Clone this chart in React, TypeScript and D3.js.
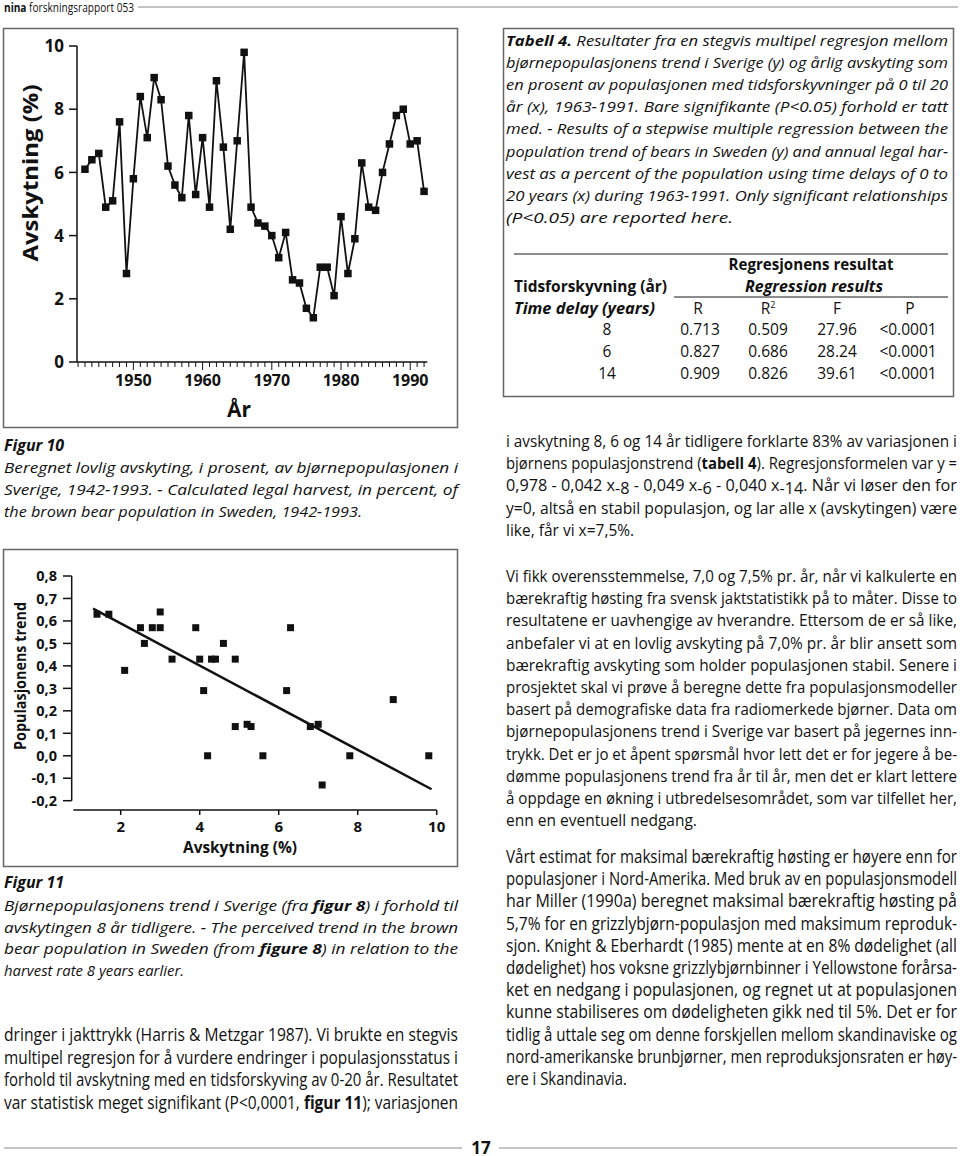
import React from 'react';
import * as d3 from 'd3';

// ---------- DATA ----------
const harvestYears = [
  1943, 1944, 1945, 1946, 1947, 1948, 1949, 1950, 1951, 1952,
  1953, 1954, 1955, 1956, 1957, 1958, 1959, 1960, 1961, 1962,
  1963, 1964, 1965, 1966, 1967, 1968, 1969, 1970, 1971, 1972,
  1973, 1974, 1975, 1976, 1977, 1978, 1979, 1980, 1981, 1982,
  1983, 1984, 1985, 1986, 1987, 1988, 1989, 1990, 1991, 1992,
];
const harvestPct = [
  6.1, 6.4, 6.6, 4.9, 5.1, 7.6, 2.8, 5.8, 8.4, 7.1,
  9.0, 8.3, 6.2, 5.6, 5.2, 7.8, 5.3, 7.1, 4.9, 8.9,
  6.8, 4.2, 7.0, 9.8, 4.9, 4.4, 4.3, 4.0, 3.3, 4.1,
  2.6, 2.5, 1.7, 1.4, 3.0, 3.0, 2.1, 4.6, 2.8, 3.9,
  6.3, 4.9, 4.8, 6.0, 6.9, 7.8, 8.0, 6.9, 7.0, 5.4,
];
const fig10YTicks = [0, 2, 4, 6, 8, 10];
const fig10XTicks = [1950, 1960, 1970, 1980, 1990];

const trendHarvest = [
  1.4, 1.7, 2.1, 2.5, 2.6, 2.8, 3.0, 3.0, 3.3, 3.9,
  4.0, 4.1, 4.2, 4.3, 4.4, 4.6, 4.9, 4.9, 5.2, 5.3,
  5.6, 6.2, 6.3, 6.8, 7.0, 7.1, 7.8, 8.9, 9.8,
];
const trendValue = [
  0.63, 0.63, 0.38, 0.57, 0.50, 0.57, 0.64, 0.57, 0.43, 0.57,
  0.43, 0.29, 0.0, 0.43, 0.43, 0.50, 0.43, 0.13, 0.14, 0.13,
  0.0, 0.29, 0.57, 0.13, 0.14, -0.13, 0.0, 0.25, 0.0,
];
const regressionX = [1.3, 9.87];
const regressionY = [0.655, -0.149];
const fig11YTicks = [-0.2, -0.1, 0, 0.1, 0.2, 0.3, 0.4, 0.5, 0.6, 0.7, 0.8];
const fig11YLabels = ['-0,2', '-0,1', '0,0', '0,1', '0,2', '0,3', '0,4', '0,5', '0,6', '0,7', '0,8'];
const fig11XTicks = [2, 4, 6, 8, 10];

const tableDelay = ['8', '6', '14'];
const tableR = ['0.713', '0.827', '0.909'];
const tableR2 = ['0.509', '0.686', '0.826'];
const tableF = ['27.96', '28.24', '39.61'];
const tableP = ['<0.0001', '<0.0001', '<0.0001'];

// ---------- TEXT ----------
const tabellLines = [
  '**Tabell 4.** Resultater fra en stegvis multipel regresjon mellom',
  'bjørnepopulasjonens trend i Sverige (y) og årlig avskyting som',
  'en prosent av populasjonen med tidsforskyvninger på 0 til 20',
  'år (x), 1963-1991. Bare signifikante (P<0.05) forhold er tatt',
  'med. - Results of a stepwise multiple regression between the',
  'population trend of bears in Sweden (y) and annual legal har-',
  'vest as a percent of the population using time delays of 0 to',
  '20 years (x) during 1963-1991. Only significant relationships',
  '(P<0.05) are reported here.',
];
const fig10Caption = [
  'Beregnet lovlig avskyting, i prosent, av bjørnepopulasjonen i',
  'Sverige, 1942-1993.  - Calculated legal harvest, in percent, of',
  'the brown bear population in Sweden, 1942-1993.',
];
const fig11Caption = [
  'Bjørnepopulasjonens trend i Sverige (fra **figur 8**) i forhold til',
  'avskytingen 8 år tidligere. - The perceived trend in the brown',
  'bear population in Sweden (from **figure 8**) in relation to the',
  'harvest rate 8 years earlier.',
];
const rightPara1 = [
  'i avskytning 8, 6 og 14 år tidligere forklarte 83% av variasjonen i',
  'bjørnens populasjonstrend (**tabell 4**). Regresjonsformelen var y =',
  '0,978 - 0,042 x_{-8} - 0,049 x_{-6} - 0,040 x_{-14}. Når vi løser den for',
  'y=0, altså en stabil populasjon, og lar alle x (avskytingen) være',
  'like, får vi x=7,5%.',
];
const rightPara2 = [
  'Vi fikk overensstemmelse, 7,0 og 7,5% pr. år, når vi kalkulerte en',
  'bærekraftig høsting fra svensk jaktstatistikk på to måter. Disse to',
  'resultatene er uavhengige av hverandre. Ettersom de er så like,',
  'anbefaler vi at en lovlig avskyting på 7,0% pr. år blir ansett som',
  'bærekraftig avskyting som holder populasjonen stabil. Senere i',
  'prosjektet skal vi prøve å beregne dette fra populasjonsmodeller',
  'basert på demografiske data fra radiomerkede bjørner. Data om',
  'bjørnepopulasjonens trend i Sverige var basert på jegernes inn-',
  'trykk. Det er jo et åpent spørsmål hvor lett det er for jegere å be-',
  'dømme populasjonens trend fra år til år, men det er klart lettere',
  'å oppdage en økning i utbredelsesområdet, som var tilfellet her,',
  'enn en eventuell nedgang.',
];
const rightPara3 = [
  'Vårt estimat for maksimal bærekraftig høsting er høyere enn for',
  'populasjoner i Nord-Amerika. Med bruk av en populasjonsmodell',
  'har Miller (1990a) beregnet maksimal bærekraftig høsting på',
  '5,7% for en grizzlybjørn-populasjon med maksimum reproduk-',
  'sjon. Knight & Eberhardt (1985) mente at en 8% dødelighet (all',
  'dødelighet) hos voksne grizzlybjørnbinner i Yellowstone forårsa-',
  'ket en nedgang i populasjonen, og regnet ut at populasjonen',
  'kunne stabiliseres om dødeligheten gikk ned til 5%. Det er for',
  'tidlig å uttale seg om denne forskjellen mellom skandinaviske og',
  'nord-amerikanske brunbjørner, men reproduksjonsraten er høy-',
  'ere i Skandinavia.',
];
const leftPara = [
  'dringer i jakttrykk (Harris & Metzgar 1987). Vi brukte en stegvis',
  'multipel regresjon for å vurdere endringer i populasjonsstatus i',
  'forhold til avskytning med en tidsforskyving av 0-20 år. Resultatet',
  'var statistisk meget signifikant (P<0,0001, **figur 11**); variasjonen',
];

const FONT = "'Open Sans', 'Noto Sans', 'DejaVu Sans', sans-serif";
const INK = '#111';
const RULE = '#666';

function rich(s: string) {
  const pieces = s.split(/(\*\*[^*]+\*\*|_\{[^}]+\})/).filter((p) => p !== '');
  let shift = 0;
  return pieces.map((p, i) => {
    if (p.startsWith('**')) {
      const dy = 0 - shift;
      shift = 0;
      return (
        <tspan key={i} fontWeight="bold" dy={dy || undefined}>
          {p.slice(2, -2)}
        </tspan>
      );
    }
    if (p.startsWith('_{')) {
      const dy = 3 - shift;
      shift = 3;
      return (
        <tspan key={i} dy={dy || undefined}>
          {p.slice(2, -1)}
        </tspan>
      );
    }
    const dy = 0 - shift;
    shift = 0;
    return (
      <tspan key={i} dy={dy || undefined}>
        {p}
      </tspan>
    );
  });
}

type ParaProps = {
  lines: string[];
  x: number;
  y: number;
  lh: number;
  width: number;
  size: number;
  italic?: boolean;
  lastWidth?: number;
};

function Para({ lines, x, y, lh, width, size, italic, lastWidth }: ParaProps) {
  return (
    <g>
      {lines.map((ln, i) => {
        const isLast = i === lines.length - 1;
        const tl = isLast ? lastWidth : width;
        return (
          <text
            key={i}
            x={x}
            y={y + i * lh}
            fontSize={size}
            fontStyle={italic ? 'italic' : 'normal'}
            fill={INK}
            textLength={tl}
            lengthAdjust={tl ? 'spacingAndGlyphs' : undefined}
          >
            {rich(ln)}
          </text>
        );
      })}
    </g>
  );
}

function Figure10() {
  const x = d3.scaleLinear().domain([1941.85, 1992.47]).range([77, 427.3]);
  const y = d3.scaleLinear().domain([0, 10]).range([362, 46]);
  const line = d3
    .line<number>()
    .x((_, i) => x(harvestYears[i]))
    .y((d) => y(d));
  const minorYears = d3.range(1942, 1993);
  const sq = 7.5;
  return (
    <g fontFamily={FONT} fill={INK}>
      <rect x={3.5} y={28.5} width={454} height={399} fill="none" stroke={RULE} strokeWidth={1.5} />
      <line x1={77} x2={77} y1={y(10)} y2={y(0)} stroke={INK} strokeWidth={1.5} />
      {fig10YTicks.map((t) => (
        <g key={t}>
          <line x1={69} x2={77} y1={y(t)} y2={y(t)} stroke={INK} strokeWidth={1.5} />
          <text x={64} y={y(t)} dy="0.36em" textAnchor="end" fontSize={17} fontWeight="bold">
            {t}
          </text>
        </g>
      ))}
      <line x1={77} x2={427.3} y1={362} y2={362} stroke={INK} strokeWidth={1.5} />
      {minorYears.map((yr) => (
        <line
          key={yr}
          x1={x(yr)}
          x2={x(yr)}
          y1={362}
          y2={yr % 10 === 0 ? 370 : 367}
          stroke={INK}
          strokeWidth={1}
        />
      ))}
      {fig10XTicks.map((t) => (
        <text key={t} x={x(t)} y={386} textAnchor="middle" fontSize={16} fontWeight="bold">
          {t}
        </text>
      ))}
      <text x={239} y={417} textAnchor="middle" fontSize={21} fontWeight="bold">
        År
      </text>
      <text
        transform="translate(30,173) rotate(-90)"
        textAnchor="middle"
        dy="0.36em"
        fontSize={21}
        fontWeight="bold"
        textLength={177}
        lengthAdjust="spacingAndGlyphs"
      >
        Avskytning (%)
      </text>
      <path d={line(harvestPct) || ''} fill="none" stroke={INK} strokeWidth={1.8} strokeLinejoin="miter" />
      {harvestPct.map((v, i) => (
        <rect key={i} x={x(harvestYears[i]) - sq / 2} y={y(v) - sq / 2} width={sq} height={sq} fill={INK} />
      ))}
    </g>
  );
}

function Figure11() {
  const x = d3.scaleLinear().domain([0.8, 10]).range([73.3, 436.7]);
  const y = d3.scaleLinear().domain([-0.2, 0.8]).range([800.7, 576]);
  const sq = 7;
  return (
    <g fontFamily={FONT} fill={INK}>
      <rect x={3.5} y={549.5} width={454} height={317} fill="none" stroke={RULE} strokeWidth={1.5} />
      <line x1={71.7} x2={71.7} y1={y(0.8)} y2={y(-0.2)} stroke={INK} strokeWidth={1.5} />
      {fig11YTicks.map((t, i) => (
        <g key={i}>
          <line x1={63} x2={71.7} y1={y(t)} y2={y(t)} stroke={INK} strokeWidth={1.5} />
          <text x={57} y={y(t)} dy="0.36em" textAnchor="end" fontSize={14.5} fontWeight="bold">
            {fig11YLabels[i]}
          </text>
        </g>
      ))}
      <line x1={x(0.8)} x2={x(10)} y1={810} y2={810} stroke={INK} strokeWidth={1.5} />
      {fig11XTicks.map((t) => (
        <g key={t}>
          <line x1={x(t)} x2={x(t)} y1={810} y2={815} stroke={INK} strokeWidth={1.5} />
          <text x={x(t)} y={832} textAnchor="middle" fontSize={15} fontWeight="bold">
            {t}
          </text>
        </g>
      ))}
      <text
        x={240}
        y={853}
        textAnchor="middle"
        fontSize={16}
        fontWeight="bold"
        textLength={114}
        lengthAdjust="spacingAndGlyphs"
      >
        Avskytning (%)
      </text>
      <text
        transform="translate(20,676) rotate(-90)"
        textAnchor="middle"
        dy="0.36em"
        fontSize={15.5}
        fontWeight="bold"
        textLength={148}
        lengthAdjust="spacingAndGlyphs"
      >
        Populasjonens trend
      </text>
      <line
        x1={x(regressionX[0])}
        y1={y(regressionY[0])}
        x2={x(regressionX[1])}
        y2={y(regressionY[1])}
        stroke={INK}
        strokeWidth={2.5}
      />
      {trendHarvest.map((v, i) => (
        <rect key={i} x={x(v) - sq / 2} y={y(trendValue[i]) - sq / 2} width={sq} height={sq} fill={INK} />
      ))}
    </g>
  );
}

function Table4() {
  const colX = [698, 768, 837, 910];
  const rowY = [334.5, 356.5, 378.5];
  const fs = 15.5;
  return (
    <g fontFamily={FONT} fill={INK}>
      <rect x={503.5} y={28.5} width={450} height={368} fill="none" stroke={RULE} strokeWidth={1.5} />
      <Para lines={tabellLines} x={506} y={46} lh={22.1} width={442} size={15} italic lastWidth={227} />
      <line x1={514} x2={948} y1={254} y2={254} stroke={RULE} strokeWidth={1.5} />
      <text x={811} y={269.5} textAnchor="middle" fontSize={fs} fontWeight="bold" textLength={165} lengthAdjust="spacingAndGlyphs">
        Regresjonens resultat
      </text>
      <text x={514} y={292} fontSize={fs} fontWeight="bold" textLength={153} lengthAdjust="spacingAndGlyphs">
        Tidsforskyvning (år)
      </text>
      <text x={814} y={292} textAnchor="middle" fontSize={fs} fontWeight="bold" fontStyle="italic" textLength={138} lengthAdjust="spacingAndGlyphs">
        Regression results
      </text>
      <line x1={674} x2={948} y1={297} y2={297} stroke={RULE} strokeWidth={1.5} />
      <text x={514} y={313.5} fontSize={fs} fontWeight="bold" fontStyle="italic" textLength={141} lengthAdjust="spacingAndGlyphs">
        Time delay (years)
      </text>
      <text x={colX[0]} y={313.5} textAnchor="middle" fontSize={fs}>R</text>
      <text x={colX[1]} y={313.5} textAnchor="middle" fontSize={fs}>
        R<tspan fontSize={9} dy={-6}>2</tspan>
      </text>
      <text x={colX[2]} y={313.5} textAnchor="middle" fontSize={fs}>F</text>
      <text x={colX[3]} y={313.5} textAnchor="middle" fontSize={fs}>P</text>
      {tableDelay.map((d, i) => (
        <g key={i} fontSize={fs}>
          <text x={607} y={rowY[i]} textAnchor="middle">{d}</text>
          <text x={colX[0] + 2} y={rowY[i]} textAnchor="middle">{tableR[i]}</text>
          <text x={colX[1]} y={rowY[i]} textAnchor="middle">{tableR2[i]}</text>
          <text x={colX[2]} y={rowY[i]} textAnchor="middle">{tableF[i]}</text>
          <text x={colX[3] - 2} y={rowY[i]} textAnchor="middle">{tableP[i]}</text>
        </g>
      ))}
    </g>
  );
}

export default function App() {
  return (
    <svg
      width={960}
      height={1156}
      viewBox="0 0 960 1156"
      style={{ position: 'absolute', left: 0, top: 0, display: 'block', background: '#fff' }}
      fontFamily={FONT}
    >
      <rect x={0} y={0} width={960} height={1156} fill="#fff" />
      {/* header */}
      <text x={4} y={12} fontSize={12} fill={INK} textLength={130} lengthAdjust="spacingAndGlyphs">
        <tspan fontWeight="bold">nina</tspan> forskningsrapport 053
      </text>
      <line x1={138} x2={958} y1={7} y2={7} stroke="#888" strokeWidth={1} />

      <Figure10 />
      <text x={4} y={451} fontSize={16} fontWeight="bold" fontStyle="italic" fill={INK}>Figur 10</text>
      <Para lines={fig10Caption} x={4} y={473} lh={22} width={454} size={15} italic lastWidth={358} />

      <Figure11 />
      <text x={4} y={888} fontSize={16} fontWeight="bold" fontStyle="italic" fill={INK}>Figur 11</text>
      <Para lines={fig11Caption} x={4} y={911} lh={21.7} width={454} size={15} italic lastWidth={180} />

      <Para lines={leftPara} x={4} y={1041} lh={22.6} width={454} size={17.5} lastWidth={454} />

      <Table4 />
      <Para lines={rightPara1} x={506} y={447} lh={22.2} width={451} size={15.5} />
      <Para lines={rightPara2} x={506} y={582} lh={22.2} width={451} size={15.5} />
      <Para lines={rightPara3} x={506} y={863} lh={22.2} width={451} size={17.5} lastWidth={121} />

      {/* footer */}
      <line x1={4} x2={462} y1={1148} y2={1148} stroke="#888" strokeWidth={1} />
      <line x1={499} x2={957} y1={1148} y2={1148} stroke="#888" strokeWidth={1} />
      <text x={481} y={1154} textAnchor="middle" fontSize={17} fontWeight="bold" fill={INK}>17</text>
    </svg>
  );
}
